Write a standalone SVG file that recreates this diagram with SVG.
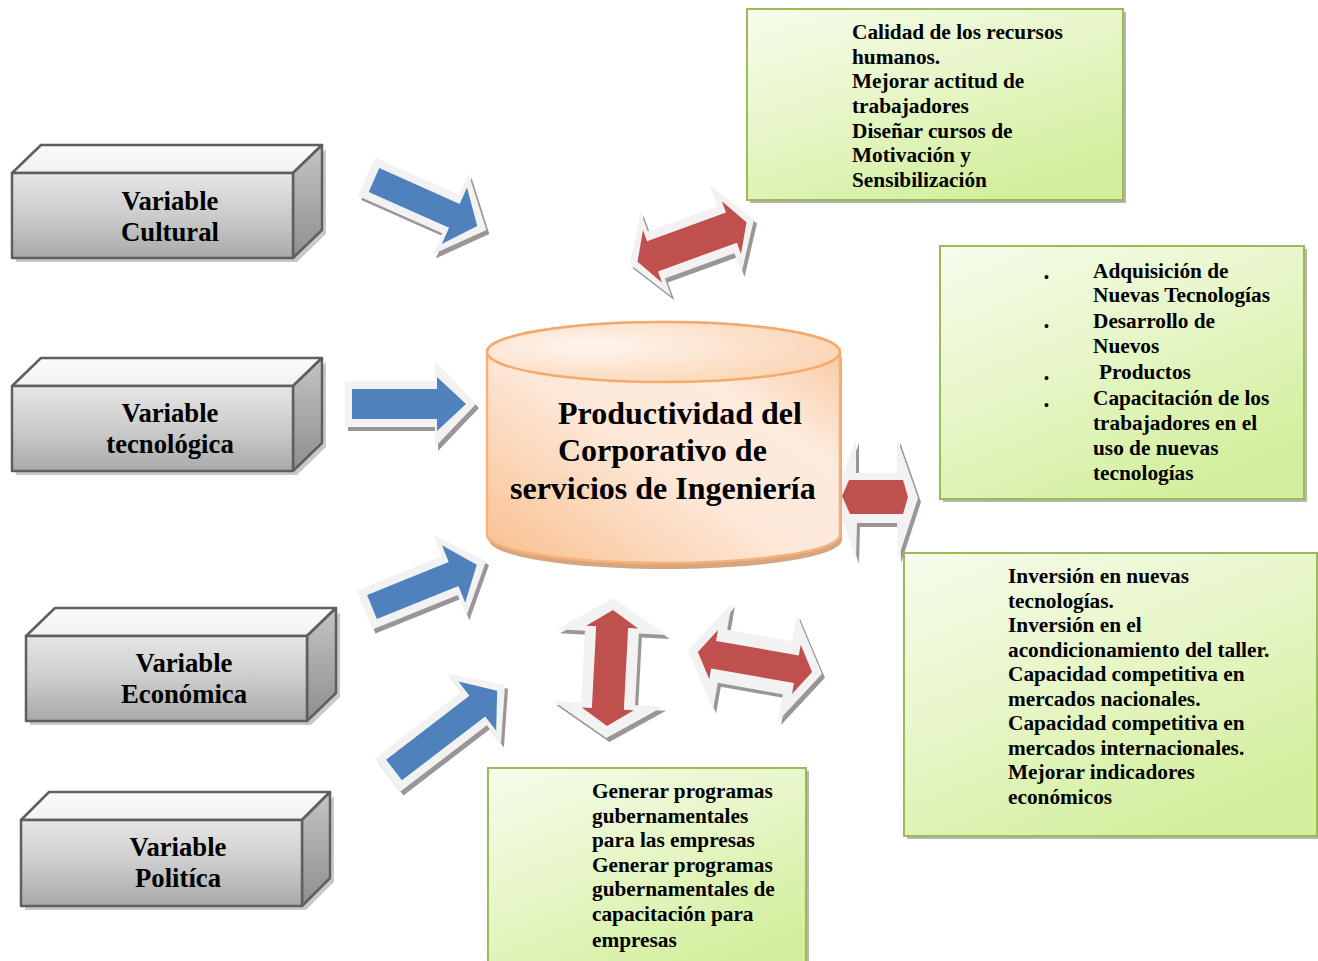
<svg xmlns="http://www.w3.org/2000/svg" xmlns:xlink="http://www.w3.org/1999/xlink" width="1318" height="961" viewBox="0 0 1318 961">
<style>
.t{font-family:"Liberation Serif","Times New Roman",serif;font-weight:bold;fill:#000}
.vb{font-size:26.7px;text-anchor:middle}
.cy{font-size:32px}
.gt{font-size:21.3px}
.bl{font-size:14px}
.fr{fill:url(#gFront);stroke:#5f5f5f;stroke-width:2.5;stroke-linejoin:round}
.tp{fill:url(#gTop);stroke:#5f5f5f;stroke-width:2.5;stroke-linejoin:round}
.sd{fill:url(#gSide);stroke:#5f5f5f;stroke-width:2.5;stroke-linejoin:round}
.bsh{fill:#c9c9c9}
.gb{fill:url(#gGreen);stroke:#9bbb59;stroke-width:2}
.gsh{fill:#b5b5b5}
.ash{fill:#9c9595}
.aout{fill:#f2f2f2}
.blue{fill:#4f81bd}
.red{fill:#c0504d}
</style>
<defs>
<linearGradient id="gFront" x1="0" y1="0" x2="0" y2="1">
<stop offset="0" stop-color="#e6e6e6"/><stop offset="0.5" stop-color="#cccccc"/><stop offset="1" stop-color="#a9a9a9"/>
</linearGradient>
<linearGradient id="gTop" x1="0" y1="0" x2="0" y2="1">
<stop offset="0" stop-color="#fbfbfb"/><stop offset="1" stop-color="#f1f1f1"/>
</linearGradient>
<linearGradient id="gSide" x1="0" y1="0" x2="0" y2="1">
<stop offset="0" stop-color="#c4c4c4"/><stop offset="1" stop-color="#8e8e8e"/>
</linearGradient>
<linearGradient id="gGreen" x1="0" y1="0" x2="0.6" y2="1">
<stop offset="0" stop-color="#f6fcec"/><stop offset="0.5" stop-color="#e7f6c8"/><stop offset="1" stop-color="#d3ef9e"/>
</linearGradient>
<linearGradient id="gCyl" x1="0" y1="1" x2="1" y2="0">
<stop offset="0" stop-color="#f9bf8e"/><stop offset="0.45" stop-color="#fde8d8"/><stop offset="0.7" stop-color="#fdebde"/><stop offset="1" stop-color="#f9c294"/>
</linearGradient>
<radialGradient id="gCylTop" cx="0.3" cy="0.4" r="0.8">
<stop offset="0" stop-color="#fef5ee"/><stop offset="1" stop-color="#fbd2b0"/>
</radialGradient>
<polygon id="b1o" transform="translate(374,180) rotate(24)" points="-8,-21 84,-21 84,-44 123,0 84,44 84,21 -8,21"/>
<polygon id="b1i" transform="translate(374,180) rotate(24)" points="0,-13 88,-13 88,-31 113,0 88,31 88,13 0,13"/>
<polygon id="b2o" transform="translate(352,404)" points="-7,-23 83,-23 83,-43 124,0 83,43 83,23 -7,23"/>
<polygon id="b2i" transform="translate(352,404)" points="0,-15 85,-15 85,-27 114,0 85,27 85,15 0,15"/>
<polygon id="b3o" transform="translate(372,607) rotate(-22)" points="-8,-21 84,-21 84,-44 123,0 84,44 84,21 -8,21"/>
<polygon id="b3i" transform="translate(372,607) rotate(-22)" points="0,-13 88,-13 88,-31 113,0 88,31 88,13 0,13"/>
<polygon id="b4o" transform="translate(394,770) rotate(-37.5)" points="-8,-21 101,-21 101,-44 140,0 101,44 101,21 -8,21"/>
<polygon id="b4i" transform="translate(394,770) rotate(-37.5)" points="0,-13 105,-13 105,-31 130,0 105,31 105,13 0,13"/>
<polygon id="r1o" transform="translate(692,242) rotate(-20)" points="-66,0 -38,-46 -38,-25 36,-25 36,-48 66,0 36,46 36,25 -38,25 -38,44"/>
<polygon id="r1i" transform="translate(692,242) rotate(-20)" points="-58,0 -42,-28 -42,-16 42,-16 42,-28 58,0 42,28 42,16 -42,16 -42,28"/>
<polygon id="r2o" points="835,497 856,439 856,473 897,473 897,438 918,498 898,559 897,523 857,523 856,560"/>
<polygon id="r2i" points="842,496 849,480 903,480 908,497 903,514 850,514"/>
<polygon id="r3o" transform="translate(610,668) rotate(93)" points="-70,0 -36,-55 -36,-27 36,-27 36,-55 70,0 36,55 36,27 -36,27 -36,55"/>
<polygon id="r3i" transform="translate(610,668) rotate(93)" points="-58,0 -41,-26 -41,-16 41,-16 41,-26 58,0 41,26 41,16 -41,16 -41,26"/>
<polygon id="r4o" transform="translate(755,662) rotate(10)" points="-68,0 -33,-54 -33,-27 33,-27 33,-54 68,0 33,54 33,27 -33,27 -33,54"/>
<polygon id="r4i" transform="translate(755,662) rotate(10)" points="-58,0 -42,-25 -42,-14 42,-14 42,-25 58,0 42,25 42,14 -42,14 -42,25"/>
</defs>
<rect width="1318" height="961" fill="#ffffff"/>

<g id="connectors">
<g id="arrow-cultural"><use xlink:href="#b1o" href="#b1o" class="ash" x="3" y="4"/><use xlink:href="#b1o" href="#b1o" class="aout"/><use xlink:href="#b1i" href="#b1i" class="blue"/></g>
<g id="arrow-tecnologica"><use xlink:href="#b2o" href="#b2o" class="ash" x="3" y="4"/><use xlink:href="#b2o" href="#b2o" class="aout"/><use xlink:href="#b2i" href="#b2i" class="blue"/></g>
<g id="arrow-economica"><use xlink:href="#b3o" href="#b3o" class="ash" x="3" y="4"/><use xlink:href="#b3o" href="#b3o" class="aout"/><use xlink:href="#b3i" href="#b3i" class="blue"/></g>
<g id="arrow-politica"><use xlink:href="#b4o" href="#b4o" class="ash" x="3" y="4"/><use xlink:href="#b4o" href="#b4o" class="aout"/><use xlink:href="#b4i" href="#b4i" class="blue"/></g>
<g id="arrow-rrhh"><use xlink:href="#r1o" href="#r1o" class="ash" x="3" y="4"/><use xlink:href="#r1o" href="#r1o" class="aout"/><use xlink:href="#r1i" href="#r1i" class="red"/></g>
<g id="arrow-tecno"><use xlink:href="#r2o" href="#r2o" class="ash" x="3" y="4"/><use xlink:href="#r2o" href="#r2o" class="aout"/><use xlink:href="#r2i" href="#r2i" class="red"/></g>
<g id="arrow-gobierno"><use xlink:href="#r3o" href="#r3o" class="ash" x="3" y="4"/><use xlink:href="#r3o" href="#r3o" class="aout"/><use xlink:href="#r3i" href="#r3i" class="red"/></g>
<g id="arrow-inversion"><use xlink:href="#r4o" href="#r4o" class="ash" x="3" y="4"/><use xlink:href="#r4o" href="#r4o" class="aout"/><use xlink:href="#r4i" href="#r4i" class="red"/></g>
</g>

<g id="var-cultural">
<polygon class="bsh" points="16,177 297,177 326,149 326,234 297,262 16,262"/>
<polygon class="tp" points="12,173 41,145 322,145 293,173"/>
<polygon class="sd" points="293,173 322,145 322,230 293,258"/>
<rect class="fr" x="12" y="173" width="281" height="85"/>
<text class="t vb" x="170" y="210">Variable</text>
<text class="t vb" x="170" y="241">Cultural</text>
</g>

<g id="var-tecnologica">
<polygon class="bsh" points="16,390 297,390 326,362 326,447 297,475 16,475"/>
<polygon class="tp" points="12,386 41,358 322,358 293,386"/>
<polygon class="sd" points="293,386 322,358 322,443 293,471"/>
<rect class="fr" x="12" y="386" width="281" height="85"/>
<text class="t vb" x="170" y="422">Variable</text>
<text class="t vb" x="170" y="453">tecnológica</text>
</g>

<g id="var-economica">
<polygon class="bsh" points="30,640 311,640 340,612 340,697 311,725 30,725"/>
<polygon class="tp" points="26,636 55,608 336,608 307,636"/>
<polygon class="sd" points="307,636 336,608 336,693 307,721"/>
<rect class="fr" x="26" y="636" width="281" height="85"/>
<text class="t vb" x="184" y="672">Variable</text>
<text class="t vb" x="184" y="703">Económica</text>
</g>

<g id="var-politica">
<polygon class="bsh" points="25,824 306,824 334,796 334,882 306,910 25,910"/>
<polygon class="tp" points="21,820 49,792 330,792 302,820"/>
<polygon class="sd" points="302,820 330,792 330,878 302,906"/>
<rect class="fr" x="21" y="820" width="281" height="86"/>
<text class="t vb" x="178" y="856">Variable</text>
<text class="t vb" x="178" y="887">Politíca</text>
</g>

<g id="productividad">
<path d="M489,357 L489,540 A176,29 0 0 0 842,540 L842,357 Z" fill="#d7a67f"/>
<path d="M487,352 L487,535 A176.5,28 0 0 0 840,535 L840,352 A176.5,30 0 0 0 487,352 Z" fill="url(#gCyl)" stroke="#f6b07a" stroke-width="2.5"/>
<ellipse cx="663.5" cy="352" rx="176.5" ry="30" fill="url(#gCylTop)" stroke="#f4aa6c" stroke-width="2.5"/>
<text class="t cy" x="558" y="424">Productividad del</text>
<text class="t cy" x="558" y="461">Corporativo de</text>
<text class="t cy" x="510" y="499">servicios de Ingeniería</text>
</g>

<g id="recursos-humanos">
<rect class="gsh" x="750" y="12" width="376" height="191"/>
<rect class="gb" x="747" y="9" width="376" height="191"/>
<text class="t gt" x="852" y="39">Calidad de los recursos</text>
<text class="t gt" x="852" y="64">humanos.</text>
<text class="t gt" x="852" y="88">Mejorar actitud de</text>
<text class="t gt" x="852" y="113">trabajadores</text>
<text class="t gt" x="852" y="138">Diseñar cursos de</text>
<text class="t gt" x="852" y="162">Motivación y</text>
<text class="t gt" x="852" y="187">Sensibilización</text>
</g>

<g id="tecnologias">
<rect class="gsh" x="943" y="249" width="364" height="253"/>
<rect class="gb" x="940" y="246" width="364" height="253"/>
<text class="t bl" x="1044" y="282">•</text>
<text class="t bl" x="1044" y="331">•</text>
<text class="t bl" x="1044" y="383">•</text>
<text class="t bl" x="1044" y="410">•</text>
<text class="t gt" x="1093" y="278">Adquisición de</text>
<text class="t gt" x="1093" y="302">Nuevas Tecnologías</text>
<text class="t gt" x="1093" y="328">Desarrollo de</text>
<text class="t gt" x="1093" y="353">Nuevos</text>
<text class="t gt" x="1099" y="379">Productos</text>
<text class="t gt" x="1093" y="405">Capacitación de los</text>
<text class="t gt" x="1093" y="430">trabajadores en el</text>
<text class="t gt" x="1093" y="455">uso de nuevas</text>
<text class="t gt" x="1093" y="480">tecnologías</text>
</g>

<g id="inversion">
<rect class="gsh" x="907" y="556" width="414" height="283"/>
<rect class="gb" x="904" y="553" width="413" height="283"/>
<text class="t gt" x="1008" y="583">Inversión en nuevas</text>
<text class="t gt" x="1008" y="608">tecnologías.</text>
<text class="t gt" x="1008" y="632">Inversión en el</text>
<text class="t gt" x="1008" y="657">acondicionamiento del taller.</text>
<text class="t gt" x="1008" y="681">Capacidad competitiva en</text>
<text class="t gt" x="1008" y="706">mercados nacionales.</text>
<text class="t gt" x="1008" y="730">Capacidad competitiva en</text>
<text class="t gt" x="1008" y="755">mercados internacionales.</text>
<text class="t gt" x="1008" y="779">Mejorar indicadores</text>
<text class="t gt" x="1008" y="804">económicos</text>
</g>

<g id="gubernamental">
<rect class="gsh" x="491" y="771" width="318" height="210"/>
<rect class="gb" x="488" y="768" width="318" height="210"/>
<text class="t gt" x="592" y="798">Generar programas</text>
<text class="t gt" x="592" y="823">gubernamentales</text>
<text class="t gt" x="592" y="847">para las empresas</text>
<text class="t gt" x="592" y="872">Generar programas</text>
<text class="t gt" x="592" y="896">gubernamentales de</text>
<text class="t gt" x="592" y="921">capacitación para</text>
<text class="t gt" x="592" y="947">empresas</text>
</g>
</svg>
